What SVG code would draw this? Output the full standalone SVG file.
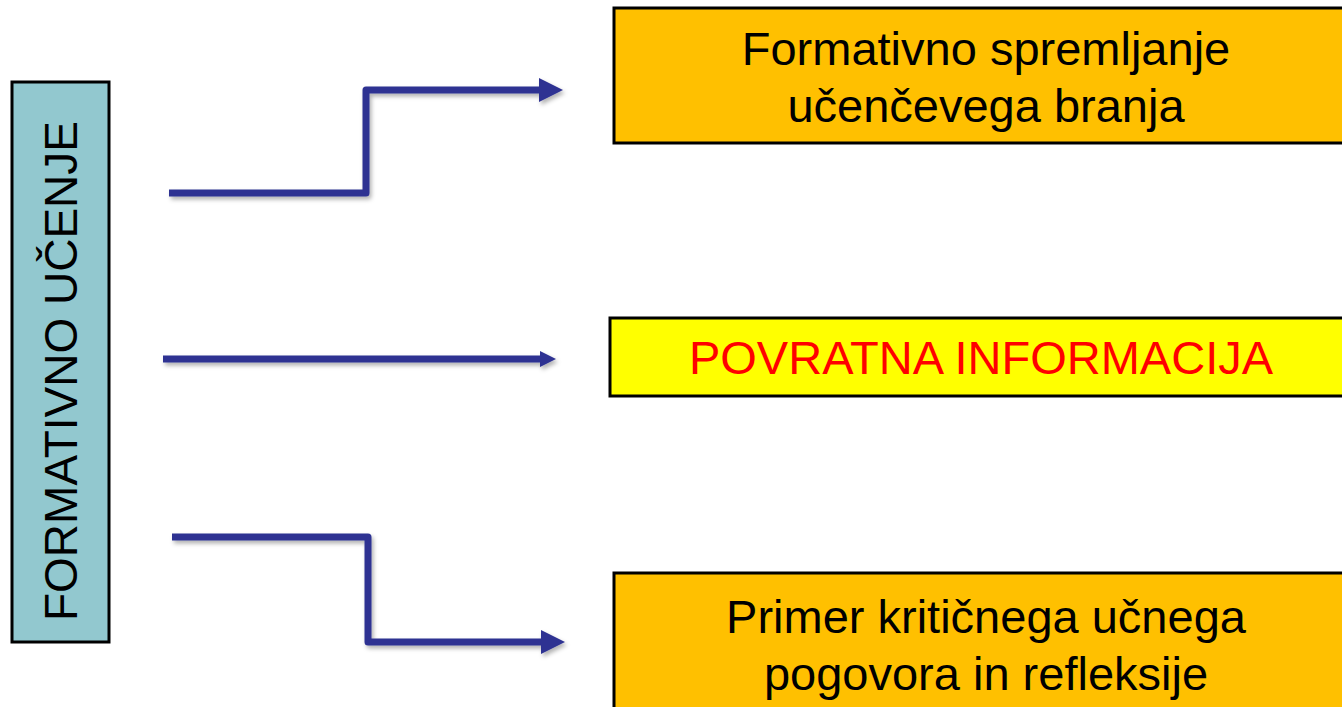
<svg xmlns="http://www.w3.org/2000/svg" width="1342" height="707" viewBox="0 0 1342 707">
<style>
.box{stroke:#000;stroke-width:3}
.t{font-family:"Liberation Sans",Arial,sans-serif;font-size:47px;text-anchor:middle}
.conn{fill:none;stroke:#2E3192;stroke-width:7;stroke-linejoin:round}
</style>
<defs>
<filter id="sh" x="-10%" y="-50%" width="120%" height="200%">
<feDropShadow dx="2" dy="3" stdDeviation="2" flood-color="#000" flood-opacity="0.3"/>
</filter>
<marker id="big" markerUnits="userSpaceOnUse" markerWidth="24" markerHeight="24" refX="0" refY="12" orient="auto" viewBox="0 0 24 24">
<path d="M0,0 L24,12 L0,24 z" fill="#2E3192"/>
</marker>
<marker id="small" markerUnits="userSpaceOnUse" markerWidth="16" markerHeight="16" refX="0" refY="8" orient="auto" viewBox="0 0 16 16">
<path d="M0,0 L16,8 L0,16 z" fill="#2E3192"/>
</marker>
</defs>
<rect width="1342" height="707" fill="#fff"/>
<g id="connectors" filter="url(#sh)">
<path class="conn" d="M169,193 H366 V90 H539" marker-end="url(#big)"/>
<path class="conn" d="M163,359 H540" marker-end="url(#small)"/>
<path class="conn" d="M172,537 H368 V642 H541" marker-end="url(#big)"/>
</g>
<g id="n-left">
<rect class="box" x="12" y="82" width="97" height="560" fill="#92C8CF"/>
<text class="t" transform="translate(77,371) rotate(-90)" fill="#000" style="font-size:46px">FORMATIVNO UČENJE</text>
</g>
<g id="n-top">
<rect class="box" x="614" y="8" width="740" height="135" fill="#FFC000"/>
<text class="t" x="986" y="65" fill="#000">Formativno spremljanje</text>
<text class="t" x="986" y="122" fill="#000">učenčevega branja</text>
</g>
<g id="n-mid">
<rect class="box" x="610" y="318" width="744" height="78" fill="#FFFF00"/>
<text class="t" x="981" y="374" fill="#FF0000">POVRATNA INFORMACIJA</text>
</g>
<g id="n-bot">
<rect class="box" x="614" y="573" width="740" height="150" fill="#FFC000"/>
<text class="t" x="986" y="633" fill="#000">Primer kritičnega učnega</text>
<text class="t" x="986" y="690" fill="#000">pogovora in refleksije</text>
</g>
</svg>
